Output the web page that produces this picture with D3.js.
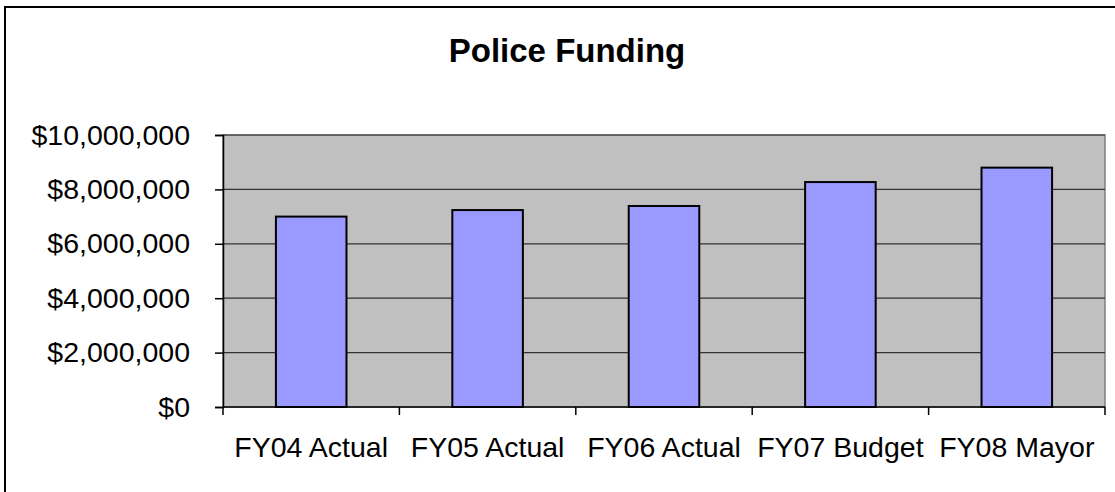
<!DOCTYPE html>
<html><head><meta charset="utf-8">
<script src="https://cdn.jsdelivr.net/npm/d3@7"></script>
<style>body{margin:0;background:#fff;}svg{display:block;}</style>
</head><body>
<svg id="c" width="1115" height="492"></svg>
<script>
const categories = ["FY04 Actual","FY05 Actual","FY06 Actual","FY07 Budget","FY08 Mayor"];
const values = [7000000, 7240000, 7390000, 8270000, 8800000];
const yTicks = [0, 2000000, 4000000, 6000000, 8000000, 10000000];
const title = "Police Funding";

const svg = d3.select("#c");
const m = {left:223, top:135, right:1105, bottom:407};
const font = "'Liberation Sans', Arial, sans-serif";

// outer chart border
svg.append("rect").attr("x",5).attr("y",7).attr("width",1200).attr("height",600)
  .attr("fill","#fff").attr("stroke","#000").attr("stroke-width",2);

const x = d3.scaleBand().domain(categories).range([m.left,m.right]).paddingInner(0.6).paddingOuter(0.3);
const xb = d3.scaleBand().domain(categories).range([m.left,m.right]);
const y = d3.scaleLinear().domain([0,10000000]).range([m.bottom,m.top]);

svg.append("rect").attr("x",m.left).attr("y",m.top).attr("width",m.right-m.left).attr("height",m.bottom-m.top)
  .attr("fill","#C0C0C0").attr("stroke","#808080").attr("stroke-width",1.5);

svg.append("g").selectAll("line").data(yTicks.filter(d=>d>0)).join("line")
  .attr("x1",m.left).attr("x2",m.right).attr("y1",d=>y(d)).attr("y2",d=>y(d))
  .attr("stroke","#333").attr("stroke-width",1.2);

svg.append("g").selectAll("rect").data(values).join("rect")
  .attr("x",(d,i)=>x(categories[i])).attr("width",x.bandwidth())
  .attr("y",d=>y(d)).attr("height",d=>y(0)-y(d))
  .attr("fill","#9999FF").attr("stroke","#000").attr("stroke-width",2);

const fmt = d => "$" + d3.format(",")(d);
const ya = svg.append("g").attr("transform",`translate(${m.left},0)`)
  .call(d3.axisLeft(y).tickValues(yTicks).tickFormat(fmt).tickSize(8).tickPadding(25));
ya.select(".domain").attr("stroke","#000").attr("stroke-width",1.5);
ya.selectAll(".tick line").attr("stroke","#000").attr("stroke-width",1.5);
ya.selectAll("text").attr("font-family",font).attr("font-size",28.5).attr("fill","#000");

// x axis with ticks at category boundaries
const xa = svg.append("g").attr("transform",`translate(0,${m.bottom})`);
xa.append("line").attr("x1",m.left).attr("x2",m.right).attr("stroke","#000").attr("stroke-width",1.5);
const bounds = categories.map(c=>xb(c)).concat([m.right]);
xa.selectAll("line.t").data(bounds).join("line").attr("class","t")
  .attr("x1",d=>d).attr("x2",d=>d).attr("y1",0).attr("y2",8).attr("stroke","#000").attr("stroke-width",1.5);
xa.selectAll("text").data(categories).join("text")
  .attr("x",d=>xb(d)+xb.bandwidth()/2).attr("y",50).attr("text-anchor","middle")
  .attr("font-family",font).attr("font-size",28.5).attr("fill","#000").text(d=>d);

svg.append("text").attr("x",567).attr("y",62).attr("text-anchor","middle")
  .attr("font-family",font).attr("font-size",33).attr("font-weight","bold").attr("fill","#000").text(title);
</script>
</body></html>
